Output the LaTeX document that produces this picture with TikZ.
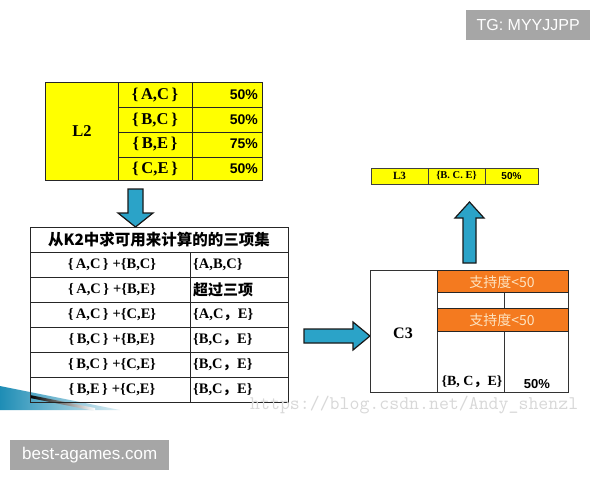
\documentclass[tikz,border=0pt]{standalone}
\usepackage{fontspec}
\setmainfont{Liberation Serif}
\newfontfamily\cjk{Noto Sans CJK SC}
\newfontfamily\arialf{Liberation Sans}
\usetikzlibrary{calc}
\definecolor{ylw}{HTML}{FFFF00}
\definecolor{arrowblue}{HTML}{2BA3C8}
\definecolor{orng}{HTML}{F47A1F}
\definecolor{orngtxt}{HTML}{FDE3C0}
\definecolor{wmgray}{HTML}{D8D8D8}
\definecolor{tagbg}{HTML}{A6A6A6}
\definecolor{swoosh}{HTML}{1E8DB5}
\begin{document}
\begin{tikzpicture}[x=1pt,y=-1pt,
  grid/.style={draw=black!85,line width=1pt},
  bigarrow/.style={draw=black!90,line width=1.2pt,fill=arrowblue,line join=miter},
  ser/.style={font=\fontsize{16.5}{16.5}\selectfont\bfseries,inner sep=0pt},
  serrow/.style={font=\fontsize{14.5}{15}\selectfont\bfseries,inner sep=0pt},
  pct/.style={font=\arialf\fontsize{14}{14}\selectfont\bfseries,inner sep=0pt},
  orangebar/.style={draw=black!85,line width=1pt,fill=orng},
  orangetext/.style={font=\cjk\fontsize{14}{14}\selectfont,text=orngtxt,inner sep=0pt},
  tag/.style={fill=tagbg,text=white,font=\arialf\fontsize{16}{16}\selectfont,inner sep=0pt,anchor=north west}
]
\useasboundingbox (0,0) rectangle (600,480);
\fill[white] (0,0) rectangle (600,480);

% swoosh decoration
\shade[left color=swoosh,right color=swoosh!15] (0,386) -- (60,398) -- (120,410) -- (0,410) -- cycle;
\shade[left color=black,right color=white] (30,395) -- (95,408) -- (95,411) -- (30,398) -- cycle;

% ---- L2 table ----
\fill[ylw] (45,82) rectangle (262,180);
\draw[grid] (45,82) rectangle (262,180);
\draw[grid] (118,82) -- (118,180) (192,82) -- (192,180);
\draw[grid] (118,107) -- (262,107) (118,132) -- (262,132) (118,157) -- (262,157);
\node[ser] (l2) at (82,131) {L2};
\node[ser] (s1) at (155,95) {\{\,A,C\,\}};
\node[ser] (s2) at (155,120) {\{\,B,C\,\}};
\node[ser] (s3) at (155,144) {\{\,B,E\,\}};
\node[ser] (s4) at (155,169) {\{\,C,E\,\}};
\node[pct,anchor=east] (p1) at (258,95) {50\%};
\node[pct,anchor=east] (p2) at (258,120) {50\%};
\node[pct,anchor=east] (p3) at (258,144) {75\%};
\node[pct,anchor=east] (p4) at (258,169) {50\%};

% down arrow
\draw[bigarrow] (128,189) -- (143,189) -- (143,213) -- (153,213) -- (135.5,227) -- (118,213) -- (128,213) -- cycle;

% ---- lower table ----
\draw[grid] (30,227) rectangle (288,402);
\draw[grid] (30,252) -- (288,252) (30,277) -- (288,277) (30,302) -- (288,302)
  (30,327) -- (288,327) (30,352) -- (288,352) (30,377) -- (288,377);
\draw[grid] (190,252) -- (190,402);
\node[font=\cjk\fontsize{15.5}{16}\selectfont\bfseries,inner sep=0pt] (hdr) at (159,240) {从K2中求可用来计算的的三项集};
\node[serrow] (r1) at (112,265) {\{\,A,C\,\}\;+\{B,C\}};
\node[serrow] (r2) at (112,290) {\{\,A,C\,\}\;+\{B,E\}};
\node[serrow] (r3) at (112,315) {\{\,A,C\,\}\;+\{C,E\}};
\node[serrow] (r4) at (112,340) {\{\,B,C\,\}\;+\{B,E\}};
\node[serrow] (r5) at (112,365) {\{\,B,C\,\}\;+\{C,E\}};
\node[serrow] (r6) at (112,390) {\{\,B,E\,\}\;+\{C,E\}};
\node[serrow,anchor=west] (q1) at (193,265) {\{A,B,C\}};
\node[font=\cjk\fontsize{15}{15}\selectfont\bfseries,inner sep=0pt,anchor=west] (q2) at (193,290) {超过三项};
\node[serrow,anchor=west] (q3) at (193,315) {\{A,C{\cjk，}E\}};
\node[serrow,anchor=west] (q4) at (193,340) {\{B,C{\cjk，}E\}};
\node[serrow,anchor=west] (q5) at (193,365) {\{B,C{\cjk，}E\}};
\node[serrow,anchor=west] (q6) at (193,390) {\{B,C{\cjk，}E\}};

% right arrow
\draw[bigarrow] (304,329) -- (353,329) -- (353,322) -- (370,336) -- (353,350) -- (353,343) -- (304,343) -- cycle;

% ---- C3 box ----
\draw[line width=1pt,draw=black!80] (370,270) rectangle (568,392);
\draw[line width=1pt,draw=black!80] (437,270) -- (437,392);
\draw[line width=1pt,draw=black!80] (504,292) -- (504,392);
\draw[orangebar] (437,270) rectangle (568,292);
\draw[orangebar] (437,308) rectangle (568,331);
\node[orangetext] (o1) at (502,282) {支持度<50};
\node[orangetext] (o2) at (502,320) {支持度<50};
\node[font=\fontsize{16}{16}\selectfont\bfseries,inner sep=0pt] (c3) at (403,333) {C3};
\node[font=\fontsize{14}{14}\selectfont\bfseries,inner sep=0pt] (c3set) at (472,382) {\{B, C{\cjk，}E\}};
\node[font=\arialf\fontsize{13}{13}\selectfont\bfseries,inner sep=0pt] (c3p) at (537,384) {50\%};

% up arrow
\draw[bigarrow] (463,263) -- (463,218) -- (455,218) -- (469.5,202) -- (484,218) -- (476,218) -- (476,263) -- cycle;

% ---- L3 bar ----
\fill[ylw] (371,168) rectangle (538,184);
\draw[line width=1pt,draw=black!75] (371,168) rectangle (538,184);
\draw[line width=1pt,draw=black!75] (428,168) -- (428,184) (485,168) -- (485,184);
\node[font=\fontsize{11}{11}\selectfont\bfseries,inner sep=0pt] (l3) at (399.5,176) {L3};
\node[font=\fontsize{10.5}{10.5}\selectfont\bfseries,inner sep=0pt] (l3s) at (456.5,176) {\{B. C. E\}};
\node[font=\arialf\fontsize{10}{10}\selectfont\bfseries,inner sep=0pt] (l3p) at (511.5,176) {50\%};

% watermark
\node[font=\ttfamily\fontsize{19.3}{19.3}\selectfont,text=wmgray,inner sep=0pt,anchor=west] (wm) at (250,405) {https://blog.csdn.net/Andy\_shenzl};

% tags
\node[tag,minimum width=124pt,minimum height=30pt] (tg) at (466,10) {TG: MYYJJPP};
\node[tag,minimum width=159pt,minimum height=30pt,font=\arialf\fontsize{17}{17}\selectfont] (bg) at (10,440) {best-agames.com};
\end{tikzpicture}
\end{document}
